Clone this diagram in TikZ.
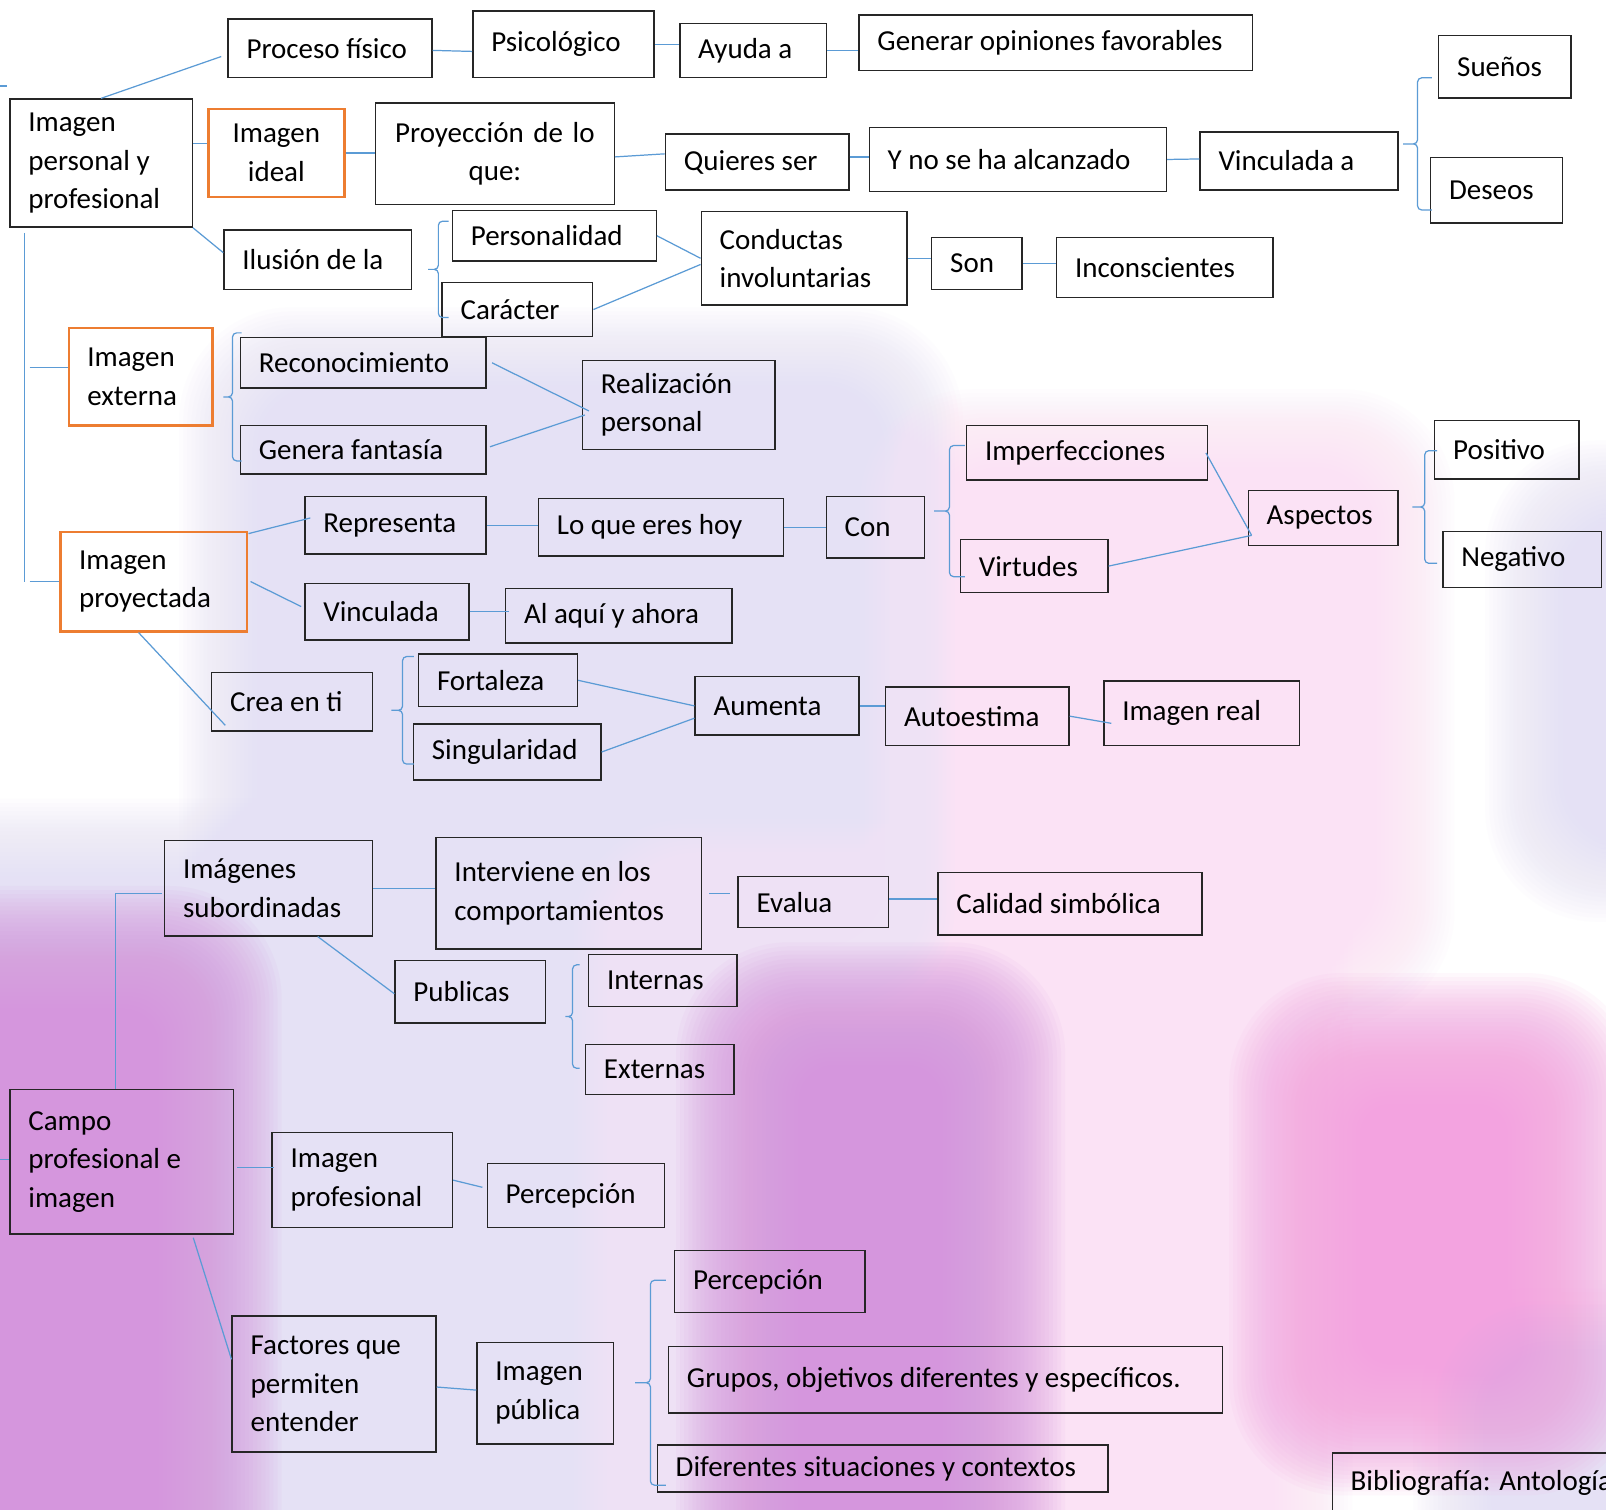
\documentclass[tikz,border=0pt]{standalone}
\usepackage{fontspec}
\setmainfont{Carlito}
\usetikzlibrary{calc}
\definecolor{azul}{HTML}{5B9BD5}
\definecolor{naranja}{HTML}{ED7D31}
\definecolor{borde}{HTML}{262626}
\definecolor{lavanda}{HTML}{E5E1F5}
\definecolor{rosa}{HTML}{FBE2F5}
\definecolor{morado}{HTML}{D596DD}
\definecolor{fucsia}{HTML}{F3A3E0}
\newcommand{\manchadifusa}[5]{\foreach \k in {0,...,39}{\fill[#1, opacity=0.075, rounded corners={(110-\k*2.5)*1pt}] ({#2+\k*4},{#3+\k*4}) rectangle ({#4-\k*4},{#5-\k*4});}}
\tikzset{
	caja/.style={draw=borde, line width=1.4pt, anchor=north west, inner xsep=18pt, inner ysep=2pt, align=flush left, font=\fontsize{28.3}{37.5}\selectfont},
	ideacaja/.style={caja, draw=naranja, line width=2.6pt},
	centrada/.style={align=center, inner xsep=10pt},
	enlace/.style={draw=azul, line width=1.2pt},
	llave/.style={enlace, rounded corners=4pt, to path={let \p1=(\tikztostart), \p2=(\tikztotarget), \p3=($(\tikztostart)!.5!(\tikztotarget)$) in (\p1) -- (\x1-#1pt,\y1) -- (\x1-#1pt,\y3) -- (\x1-2*#1pt,\y3) (\p2) -- (\x1-#1pt,\y2) -- (\x1-#1pt,\y3) -- (\x1-2*#1pt,\y3)}}
}
\begin{document}
\begin{tikzpicture}[x=1pt, y=-1pt]
	\useasboundingbox (0,0) rectangle (1568,1474);
	\clip (0,0) rectangle (1568,1474);
	\fill[white] (0,0) rectangle (1568,1474);
	\manchadifusa{lavanda}{175}{300}{940}{1000}
	\manchadifusa{lavanda}{-200}{780}{740}{1700}
	\manchadifusa{lavanda}{1450}{430}{1700}{900}
	\manchadifusa{lavanda}{1380}{1250}{1700}{1600}
	\manchadifusa{rosa}{840}{380}{1420}{1000}
	\manchadifusa{rosa}{560}{800}{1320}{1640}
	\manchadifusa{morado}{-200}{865}{275}{1700}
	\manchadifusa{morado}{660}{920}{1040}{1700}
	\manchadifusa{fucsia}{1200}{950}{1600}{1460}

	\node[caja, text width=163pt, minimum height=57pt] (proceso) at (222,18) {Proceso físico};
	\node[caja, text width=141pt, minimum height=65pt] (psico) at (461,10) {Psicológico};
	\node[caja, text width=107pt, minimum height=53pt] (ayuda) at (663,22) {Ayuda a};
	\node[caja, text width=348pt, minimum height=54pt] (generar) at (838,14) {Generar opiniones favorables};
	\node[caja, text width=142pt, minimum height=125pt] (personal) at (9,96) {Imagen\\personal y\\profesional};
	\node[ideacaja, centrada, text width=113pt, minimum height=86pt] (ideal) at (202,105) {Imagen\\ideal};
	\node[caja, centrada, text width=213pt, minimum height=99pt] (proyeccion) at (366,100) {Proyección de lo\\que:};
	\node[caja, text width=143pt, minimum height=55pt] (quieres) at (649,130) {Quieres ser};
	\node[caja, text width=254pt, minimum height=62pt] (ynose) at (848,124) {Y no se ha alcanzado};
	\node[caja, text width=157pt, minimum height=57pt] (vinculadaa) at (1171,128) {Vinculada a};
	\node[caja, text width=93pt, minimum height=61pt] (suenos) at (1404,34) {Sueños};
	\node[caja, text width=93pt, minimum height=64pt] (deseos) at (1396,153) {Deseos};
	\node[caja, text width=147pt, minimum height=58pt] (ilusion) at (218,224) {Ilusión de la};
	\node[caja, text width=163pt, minimum height=49pt] (personalidad) at (441,205) {Personalidad};
	\node[caja, text width=111pt, minimum height=53pt] (caracter) at (431,275) {Carácter};
	\node[caja, text width=165pt, minimum height=91pt] (conductas) at (684,206) {Conductas\\involuntarias};
	\node[caja, text width=52pt, minimum height=51pt] (son) at (909,231) {Son};
	\node[caja, text width=175pt, minimum height=59pt] (inconscientes) at (1031,231) {Inconscientes};
	\node[ideacaja, text width=104pt, minimum height=95pt] (externa) at (66,319) {Imagen\\externa};
	\node[caja, text width=204pt, minimum height=49pt] (reconocimiento) at (234,329) {Reconocimiento};
	\node[caja, text width=204pt, minimum height=47pt] (fantasia) at (234,415) {Genera fantasía};
	\node[caja, text width=152pt, minimum height=87pt] (realizacion) at (568,351) {Realización\\personal};
	\node[caja, text width=199pt, minimum height=53pt] (imperfecciones) at (943,415) {Imperfecciones};
	\node[caja, text width=108pt, minimum height=52pt] (virtudes) at (937,526) {Virtudes};
	\node[caja, text width=110pt, minimum height=54pt] (aspectos) at (1218,478) {Aspectos};
	\node[caja, text width=105pt, minimum height=57pt] (positivo) at (1400,410) {Positivo};
	\node[caja, text width=119pt, minimum height=55pt] (negativo) at (1408,518) {Negativo};
	\node[ideacaja, text width=146pt, minimum height=97pt] (proyectada) at (58,518) {Imagen\\proyectada};
	\node[caja, text width=141pt, minimum height=56pt] (representa) at (297,484) {Representa};
	\node[caja, text width=203pt, minimum height=56pt] (loque) at (525,486) {Lo que eres hoy};
	\node[caja, text width=60pt, minimum height=60pt] (con) at (806,484) {Con};
	\node[caja, text width=124pt, minimum height=55pt] (vinculada) at (297,569) {Vinculada};
	\node[caja, text width=185pt, minimum height=53pt] (aqui) at (493,574) {Al aquí y ahora};
	\node[caja, text width=121pt, minimum height=57pt] (crea) at (206,656) {Crea en ti};
	\node[caja, text width=119pt, minimum height=51pt] (fortaleza) at (408,638) {Fortaleza};
	\node[caja, text width=147pt, minimum height=55pt] (singularidad) at (403,706) {Singularidad};
	\node[caja, text width=124pt, minimum height=57pt] (aumenta) at (678,660) {Aumenta};
	\node[caja, text width=143pt, minimum height=57pt] (autoestima) at (864,670) {Autoestima};
	\node[caja, text width=155pt, minimum height=63pt] (real) at (1077,664) {Imagen real};
	\node[caja, text width=167pt, minimum height=93pt] (subordinadas) at (160,820) {Imágenes\\subordinadas};
	\node[caja, text width=223pt, minimum height=109pt] (interviene) at (425,817) {Interviene en los\\comportamientos};
	\node[caja, text width=111pt, minimum height=50pt] (evalua) at (720,855) {Evalua};
	\node[caja, text width=222pt, minimum height=61pt] (calidad) at (915,851) {Calidad simbólica};
	\node[caja, text width=111pt, minimum height=61pt] (publicas) at (385,937) {Publicas};
	\node[caja, text width=109pt, minimum height=51pt] (internas) at (574,931) {Internas};
	\node[caja, text width=109pt, minimum height=49pt] (externas) at (571,1019) {Externas};
	\node[caja, text width=182pt, minimum height=141pt] (campo) at (9,1063) {Campo\\profesional e\\imagen};
	\node[caja, text width=140pt, minimum height=93pt] (profesional) at (265,1105) {Imagen\\profesional};
	\node[caja, text width=137pt, minimum height=63pt] (percepcionA) at (475,1135) {Percepción};
	\node[caja, text width=163pt, minimum height=133pt] (factores) at (226,1284) {Factores que\\permiten\\entender};
	\node[caja, text width=97pt, minimum height=99pt] (publica) at (465,1310) {Imagen\\pública};
	\node[caja, text width=150pt, minimum height=61pt] (percepcionB) at (658,1220) {Percepción};
	\node[caja, text width=505pt, minimum height=65pt] (grupos) at (652,1314) {Grupos, objetivos diferentes y específicos.};
	\node[caja, text width=404pt, minimum height=46pt] (diferentes) at (641,1410) {Diferentes situaciones y contextos};
	\node[caja, text width=404pt, minimum height=58pt] (biblio) at (1300,1418) {Bibliografía: Antología};

	\coordinate (bordeA) at (0,84);
	\coordinate (bordeAfin) at (7,84);
	\coordinate (bordeB) at (0,1132);
	\coordinate (tronco) at ([shift={(15,5)}]personal.south west);
	\coordinate (troncofin) at (tronco |- proyectada.west);
	\coordinate (ramaext) at ([yshift=9pt]externa.west -| tronco);
	\coordinate (aspA) at ([shift={(4,17)}]aspectos.west);
	\coordinate (llvAa) at (1398,205);
	\coordinate (llvAb) at (1398,76);
	\coordinate (llvBa) at (438,310);
	\coordinate (llvBb) at (438,216);
	\coordinate (llvCa) at (236,450);
	\coordinate (llvCb) at (236,325);
	\coordinate (llvDa) at (942,563);
	\coordinate (llvDb) at (942,435);
	\coordinate (llvEa) at (1403,550);
	\coordinate (llvEb) at (1403,440);
	\coordinate (llvFa) at (404,746);
	\coordinate (llvFb) at (404,641);
	\coordinate (llvGa) at (566,1043);
	\coordinate (llvGb) at (566,942);
	\coordinate (llvHa) at (650,1450);
	\coordinate (llvHb) at (650,1250);

	\draw[enlace] (bordeA) -- (bordeAfin);
	\draw[enlace] (bordeB) -- (bordeB -| campo.west);
	\draw[enlace] (personal.north) -- ([shift={(-6,8)}]proceso.west);
	\draw[enlace] ([shift={(0,2)}]proceso.east) -- ([shift={(0,7)}]psico.west);
	\draw[enlace] (psico.east) -- (psico.east -| ayuda.west);
	\draw[enlace] (ayuda.east) -- (ayuda.east -| generar.west);
	\draw[enlace] ([yshift=19pt]personal.east) -- ([yshift=19pt]personal.east -| ideal.west);
	\draw[enlace] (ideal.east) -- (ideal.east -| proyeccion.west);
	\draw[enlace] ([yshift=-3pt]proyeccion.east) -- ([yshift=8pt]quieres.west);
	\draw[enlace] ([yshift=5pt]quieres.east) -- ([yshift=5pt]quieres.east -| ynose.west);
	\draw[enlace] (ynose.east) -- ([yshift=2pt]vinculadaa.west);
	\draw[enlace] (personal.south east) -- ([yshift=7pt]ilusion.west);
	\draw[enlace] (personalidad.east) -- (conductas.west);
	\draw[enlace] (caracter.east) -- ([yshift=-6pt]conductas.west);
	\draw[enlace] (conductas.east) -- (conductas.east -| son.west);
	\draw[enlace] (son.east) -- (son.east -| inconscientes.west);
	\draw[enlace] (tronco) -- (troncofin);
	\draw[enlace] ([xshift=5pt]troncofin) -- (proyectada.west);
	\draw[enlace] ([xshift=5pt]ramaext) -- ([yshift=9pt]externa.west);
	\draw[enlace] ([xshift=5pt]reconocimiento.east) -- ([shift={(7,6)}]realizacion.west);
	\draw[enlace] ([shift={(3,-3)}]fantasia.east) -- ([shift={(3,10)}]realizacion.west);
	\draw[enlace] ([yshift=-3pt]proyectada.north east) -- ([shift={(6,-7)}]representa.west);
	\draw[enlace] (representa.east) -- (representa.east -| loque.west);
	\draw[enlace] (loque.east) -- (con.west);
	\draw[enlace] ([xshift=-2pt]imperfecciones.east) -- (aspA);
	\draw[enlace] (virtudes.east) -- (aspA);
	\draw[enlace] ([xshift=2pt]proyectada.east) -- ([shift={(-3,-5)}]vinculada.west);
	\draw[enlace] (vinculada.east) -- ([xshift=4pt]vinculada.east -| aqui.west);
	\draw[enlace] ([xshift=-15pt]proyectada.south) -- ([shift={(14,23)}]crea.west);
	\draw[enlace] (fortaleza.east) -- (aumenta.west);
	\draw[enlace] (singularidad.east) -- ([yshift=-12pt]aumenta.west);
	\draw[enlace] (aumenta.east) -- (aumenta.east -| autoestima.west);
	\draw[enlace] (autoestima.east) -- ([shift={(8,10)}]real.west);
	\draw[enlace] ([xshift=-6pt]campo.north) |- ([shift={(-2,5)}]subordinadas.west);
	\draw[enlace] (subordinadas.east) -- (subordinadas.east -| interviene.west);
	\draw[enlace] ([xshift=7pt]interviene.east) -- ([xshift=-7pt]interviene.east -| evalua.west);
	\draw[enlace] ([yshift=3pt]evalua.east) -- ([yshift=3pt]evalua.east -| calidad.west);
	\draw[enlace] ([xshift=48pt]subordinadas.south) -- ([yshift=-2pt]publicas.west);
	\draw[enlace] ([shift={(3,6)}]campo.east) -- ([shift={(3,6)}]campo.east -| profesional.west);
	\draw[enlace] (profesional.east) -- ([shift={(-4,-8)}]percepcionA.west);
	\draw[enlace] ([shift={(70,3)}]campo.south) -- ([shift={(0,-24)}]factores.west);
	\draw[enlace] ([yshift=-3pt]factores.east) -- ([yshift=3pt]publica.west);

	\path[llave=14] (llvAa) to (llvAb);
	\path[llave=10] (llvBa) to (llvBb);
	\path[llave=9] (llvCa) to (llvCb);
	\path[llave=15] (llvDa) to (llvDb);
	\path[llave=12] (llvEa) to (llvEb);
	\path[llave=11] (llvFa) to (llvFb);
	\path[llave=7] (llvGa) to (llvGb);
	\path[llave=15] (llvHa) to (llvHb);
\end{tikzpicture}
\end{document}
